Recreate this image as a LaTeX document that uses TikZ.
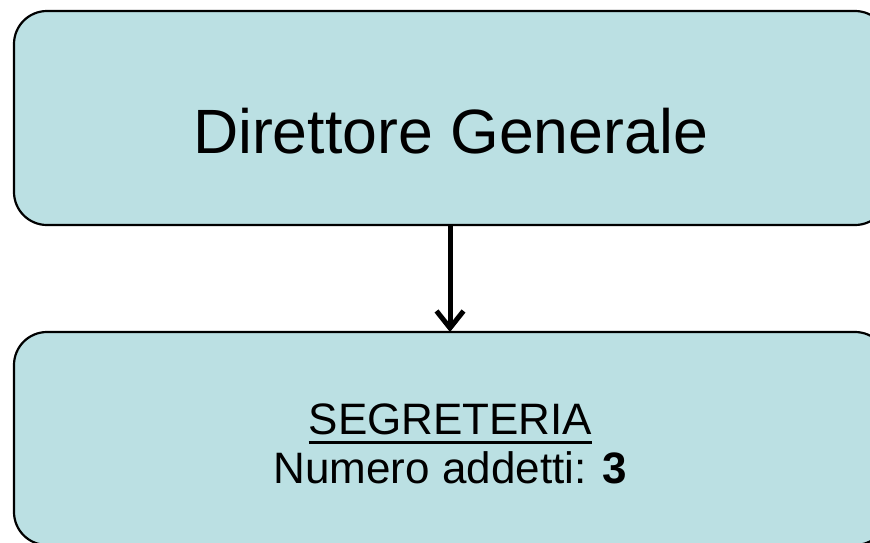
\documentclass[tikz,border=0pt]{standalone}
\usepackage{fontspec}
\setmainfont{Liberation Sans}
\usetikzlibrary{arrows.meta}
\definecolor{boxfill}{RGB}{187,224,227}
\tikzset{
  orgbox/.style={draw=black, line width=2.2pt, fill=boxfill, rounded corners=33pt,
    minimum width=874pt, minimum height=214pt, inner sep=0pt, outer sep=0pt},
  lbl/.style={inner sep=0pt, outer sep=0pt, anchor=base, align=center},
  conn/.style={line width=5pt, -{Straight Barb[length=17pt,width=27pt,line width=0pt 1]}}
}
\begin{document}
\begin{tikzpicture}[x=1pt,y=1pt]
\useasboundingbox (0,0) rectangle (870,-542);
\clip (0,0) rectangle (870,-542);
\node[orgbox] (dg) at (451,-118) {};
\node[orgbox, minimum height=213pt] (seg) at (451,-438.5) {};
\node[lbl, font=\fontsize{62.6pt}{70pt}\selectfont] (dgt) at (450.5,-153) {Direttore Generale};
\node[lbl, font=\fontsize{44pt}{50pt}\selectfont] (segt) at (450.5,-434) {SEGRETERIA};
\draw[line width=3pt] ([yshift=-8.5pt]segt.base west) -- ([yshift=-8.5pt]segt.base east);
\node[lbl, font=\fontsize{44pt}{50pt}\selectfont] (num) at (450.5,-483) {Numero addetti: \textbf{3}};
\draw[conn] (dg.south -| 450,0) -- (seg.north -| 450,0);
\end{tikzpicture}
\end{document}
